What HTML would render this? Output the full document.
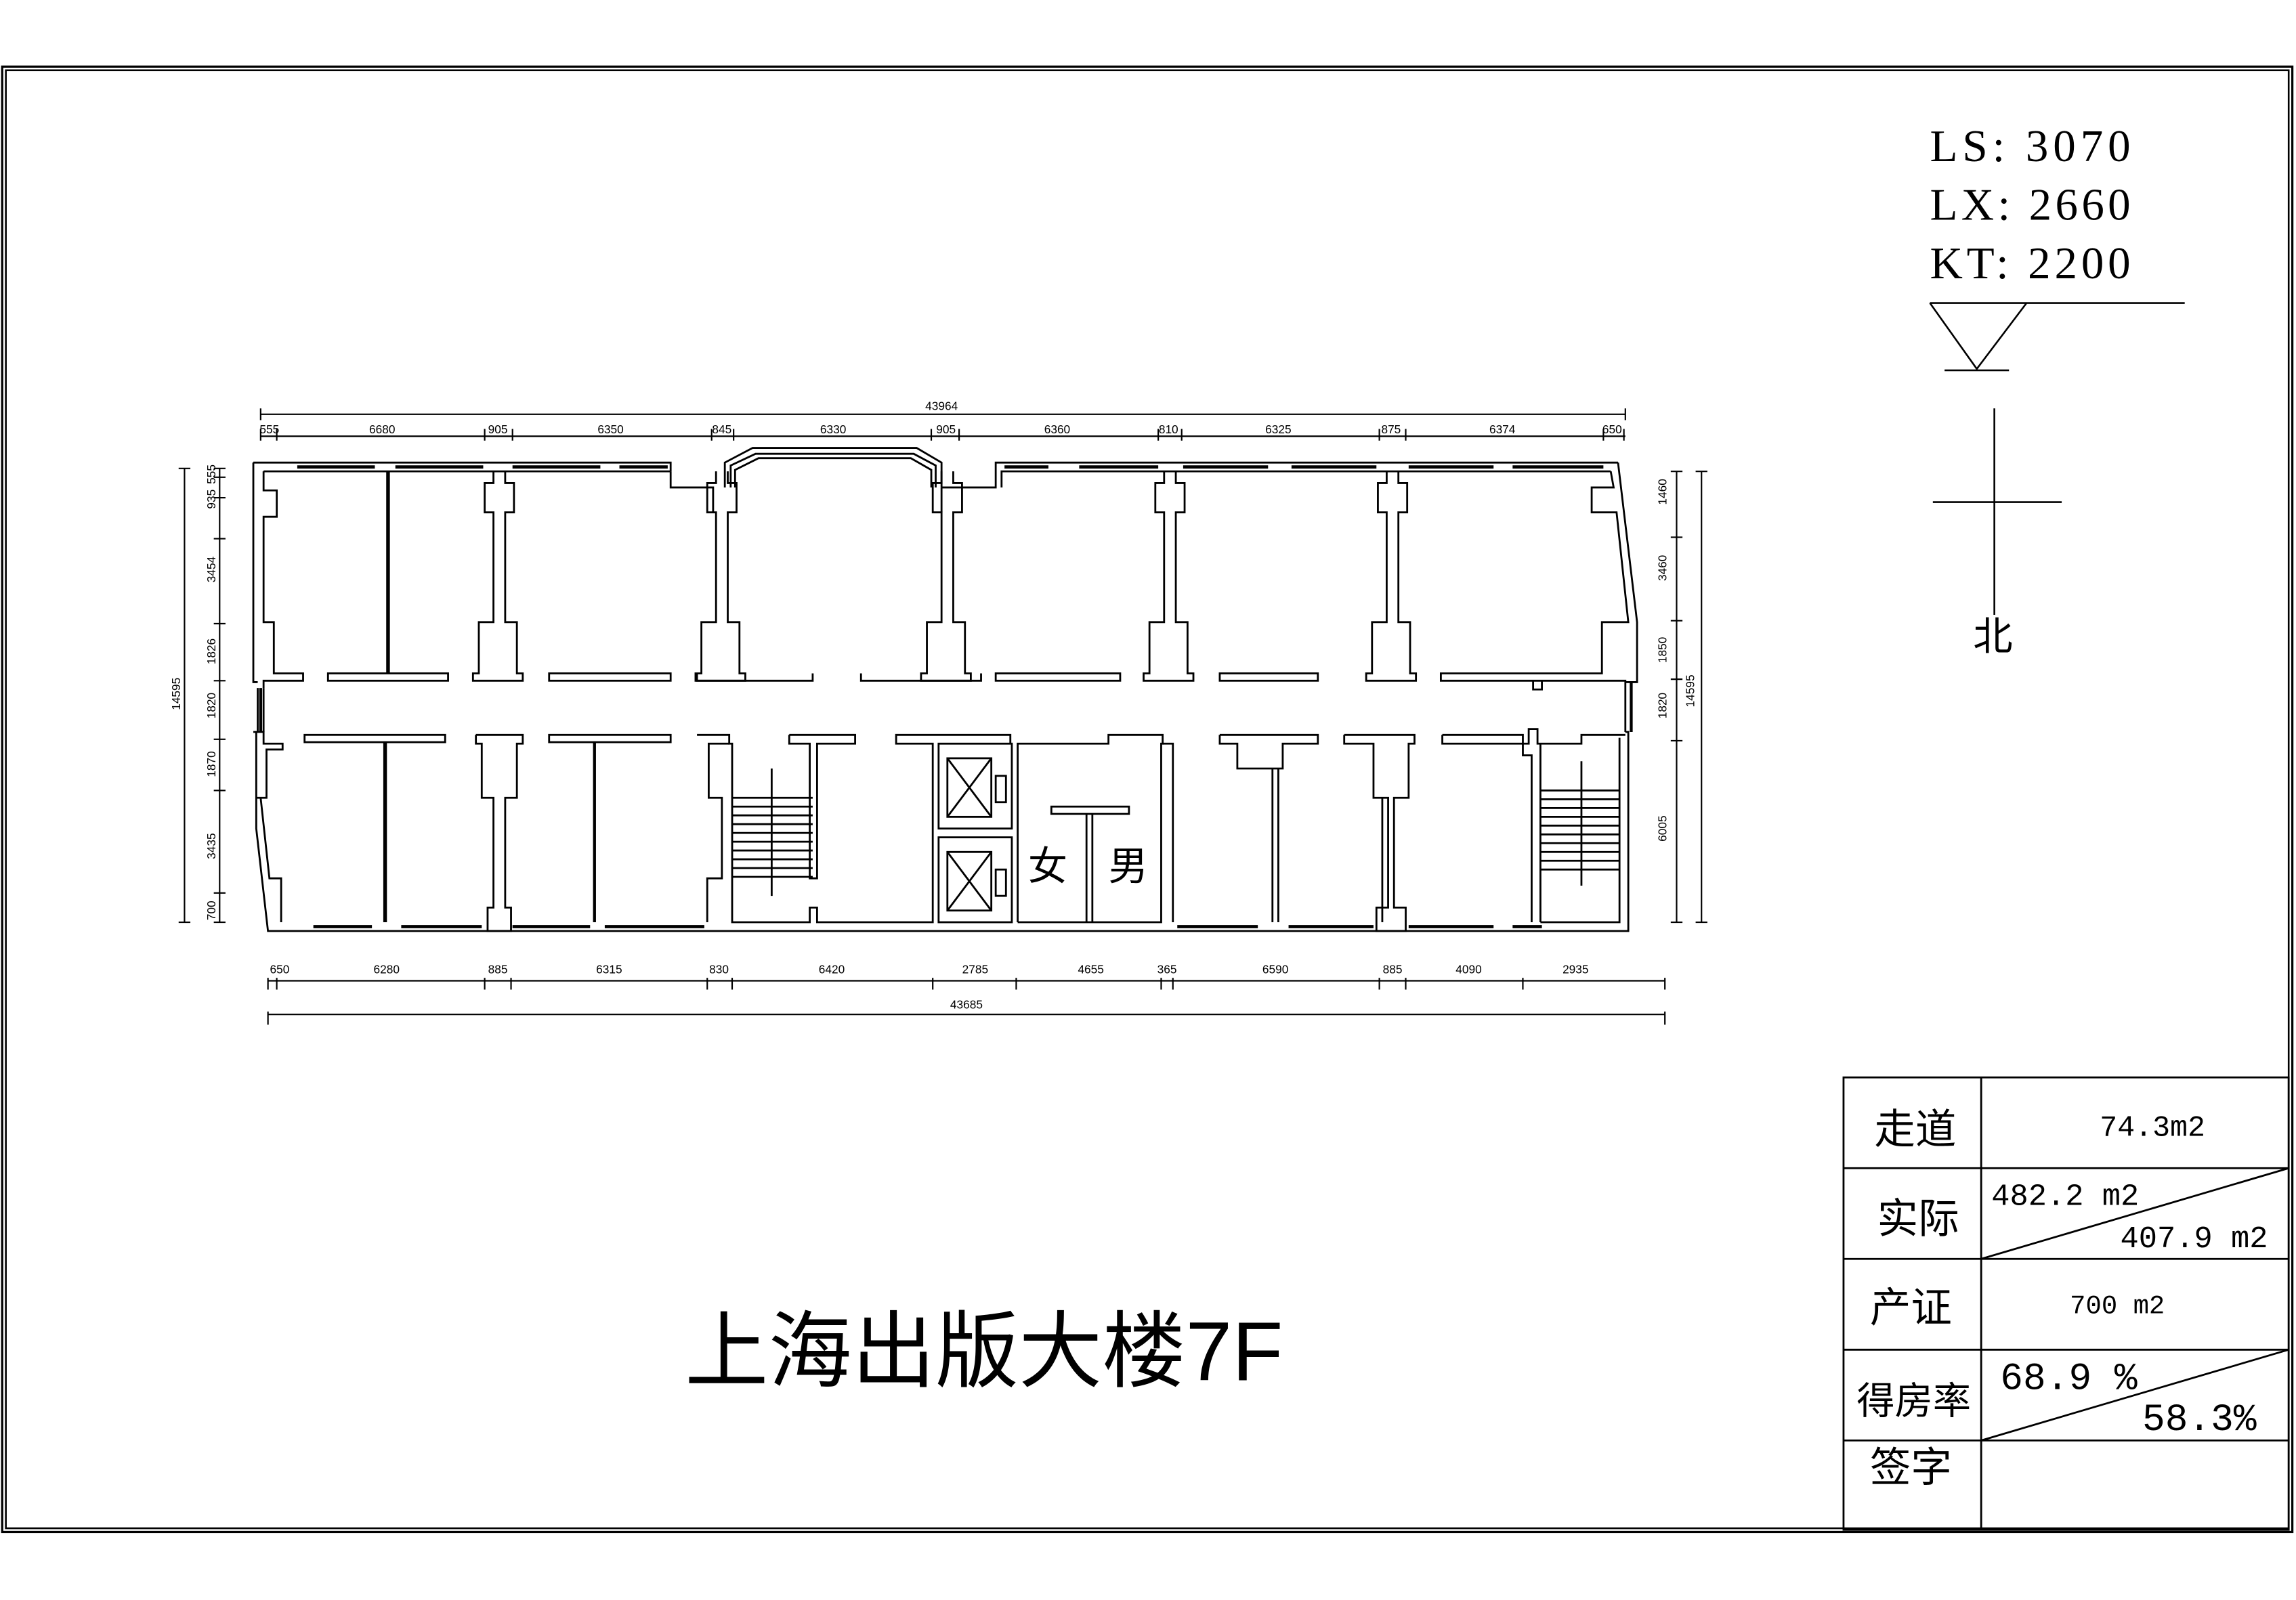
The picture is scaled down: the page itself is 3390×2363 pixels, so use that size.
<!DOCTYPE html>
<html><head><meta charset="utf-8"><style>
html,body{margin:0;padding:0;background:#fff;}
svg{display:block;}
.d{font-family:"Liberation Sans Narrow","Liberation Sans",sans-serif;font-size:8px;text-anchor:middle;}
</style></head><body>
<svg width="3390" height="2363" viewBox="0 0 1568 1093" preserveAspectRatio="none" xmlns="http://www.w3.org/2000/svg">
<rect x="0" y="0" width="1568" height="1093" fill="#fff"/>
<g fill="none" stroke="#000">
<!-- frame -->
<rect x="1.5" y="45.5" width="1564" height="1001" stroke-width="1.5"/>
<rect x="4" y="48" width="1559" height="996" stroke-width="1.2"/>

<!-- north symbols -->
<line x1="1318" y1="207" x2="1492" y2="207" stroke-width="1.2"/>
<polyline points="1318,207 1350,252 1384,207" stroke-width="1.2"/>
<line x1="1328" y1="253" x2="1372" y2="253" stroke-width="1.2"/>
<line x1="1362" y1="279" x2="1362" y2="420" stroke-width="1.2"/>
<line x1="1320" y1="343" x2="1408" y2="343" stroke-width="1.2"/>

<!-- table -->
<g stroke-width="1.3">
<rect x="1259" y="736" width="304" height="309"/>
<line x1="1353" y1="736" x2="1353" y2="1045"/>
<line x1="1259" y1="798" x2="1563" y2="798"/>
<line x1="1259" y1="860" x2="1563" y2="860"/>
<line x1="1259" y1="922" x2="1563" y2="922"/>
<line x1="1259" y1="984" x2="1563" y2="984"/>
<line x1="1353" y1="860" x2="1563" y2="798"/>
<line x1="1353" y1="984" x2="1563" y2="922"/>
</g>

<!-- dimension lines -->
<g stroke-width="1">
<line x1="178" y1="283" x2="1110" y2="283"/>
<line x1="178" y1="279" x2="178" y2="287"/><line x1="1110" y1="279" x2="1110" y2="287"/>
<line x1="178" y1="298" x2="1110" y2="298"/>
<path d="M178 293v8M189 293v8M331 293v8M350 293v8M486 293v8M501 293v8M636 293v8M655 293v8M791 293v8M807 293v8M942 293v8M960 293v8M1095 293v8M1109 293v8"/>
<line x1="183" y1="670" x2="1137" y2="670"/>
<path d="M183 668v8M189 668v8M331 668v8M349 668v8M483 668v8M500 668v8M637 668v8M694 668v8M793 668v8M801 668v8M942 668v8M960 668v8M1040 668v8M1137 668v8"/>
<line x1="183" y1="693" x2="1137" y2="693"/>
<line x1="183" y1="691" x2="183" y2="700"/><line x1="1137" y1="691" x2="1137" y2="700"/>
<line x1="150" y1="320" x2="150" y2="630"/>
<path d="M146 320h8M146 326h8M146 340h8M146 368h8M146 426h8M146 465h8M146 505h8M146 540h8M146 610h8M146 630h8"/>
<line x1="126" y1="320" x2="126" y2="630"/>
<path d="M122 320h8M122 630h8"/>
<line x1="1145" y1="322" x2="1145" y2="630"/>
<path d="M1141 322h8M1141 367h8M1141 424h8M1141 464h8M1141 506h8M1141 630h8"/>
<line x1="1162" y1="322" x2="1162" y2="630"/>
<path d="M1158 322h8M1158 630h8"/>
</g>

<!-- PLAN -->
<g stroke-width="1.3">
<polyline points="458,322 458,333 487,333 487,350"/>
<polyline points="173,316 458,316 458,322"/>
<polyline points="173,316 173,466 176,466"/>
<polyline points="180,322 458,322"/>
<polyline points="180,322 180,335 189,335 189,353 180,353 180,425 187,425 187,460 207,460 207,465 187,465 180,465 180,470"/>
<polyline points="495,333 495,316 514,306 626,306 643,316 643,333"/>
<polyline points="499,333 499,318 516,310 624,310 639,318 639,333"/>
<polyline points="502,333 502,321 518,313 622,313 636,321 636,333"/>
<polyline points="643,333 680,333 680,316 1105,316"/>
<polyline points="684,333 684,322 1100,322"/>
<polyline points="643,333 643,350"/>
<polyline points="1105,316 1118,425 1118,466 1110,466"/>
<polyline points="1100,322 1102,333 1087,333 1087,350 1104,350 1112,425 1094,425 1094,460 984,460 984,465 1110,465 1110,500"/>
<polyline points="1110,500 1112,500 1112,636 183,636 175,566 175,500"/>
<polyline points="1106,504 1106,630 1052,630"/>
<line x1="176" y1="470" x2="176" y2="500"/><line x1="180" y1="470" x2="180" y2="500"/>
<line x1="178" y1="470" x2="178" y2="500" stroke-width="2"/>
<polyline points="173,500 180,500 180,508 193,508 193,512 182,512 182,545 175,545"/>
<polyline points="178,545 184,600 192,600 192,630"/>
<line x1="1114" y1="466" x2="1114" y2="500" stroke-width="2"/>

<g stroke-width="2.2">
<path d="M203 319h53M270 319h60M350 319h60M423 319h33M686 319h30M737 319h54M808 319h58M882 319h58M962 319h58M1033 319h62"/>
<path d="M214 633h40M274 633h55M350 633h53M413 633h68M804 633h55M880 633h58M962 633h58M1033 633h20"/>
</g>

<g id="up">
<polyline points="337,322 337,330 331,330 331,350 337,350 337,425 327,425 327,460 323,460 323,465 357,465 357,460 353,460 353,425 345,425 345,350 351,350 351,330 345,330 345,322"/>
</g>
<use href="#up" transform="translate(152,0)"/>
<use href="#up" transform="translate(306,0)"/>
<use href="#up" transform="translate(458,0)"/>
<use href="#up" transform="translate(610,0)"/>
<rect x="224" y="460" width="82" height="5"/>
<rect x="375" y="460" width="83" height="5"/>
<polyline points="476,460 476,465 555,465 555,460"/>
<polyline points="588,460 588,465 670,465 670,460"/>
<rect x="680" y="460" width="85" height="5"/>
<rect x="833" y="460" width="67" height="5"/>
<line x1="265" y1="322" x2="265" y2="460" stroke-width="2.5"/>
<path d="M1047 465v6h6v-6"/>

<polyline points="325,502 357,502 357,508 353,508 353,545 345,545 345,620 349,620 349,636 333,636 333,620 337,620 337,545 329,545 329,508 325,508 325,502"/>
<rect x="208" y="502" width="96" height="5"/>
<rect x="375" y="502" width="83" height="5"/>
<line x1="263" y1="507" x2="263" y2="630" stroke-width="2.5"/>
<line x1="406" y1="507" x2="406" y2="630" stroke-width="2"/>
<polyline points="476,502 498,502 498,508 500,508 500,630 553,630 553,620 558,620 558,630 637,630 637,508 612,508 612,502 690,502 690,508"/>
<polyline points="498,508 484,508 484,545 493,545 493,600 483,600 483,630"/>
<polyline points="539,502 584,502 584,508 558,508 558,600 553,600 553,508 539,508 539,502"/>
<path d="M500 545h55M500 551h55M500 557h55M500 563h55M500 569h55M500 575h55M500 581h55M500 587h55M500 593h55M500 599h55"/>
<line x1="527" y1="525" x2="527" y2="612"/>
<rect x="641" y="508" width="50" height="58"/>
<rect x="641" y="572" width="50" height="58"/>
<rect x="647" y="518" width="30" height="40"/>
<path d="M647 518L677 558M677 518L647 558"/>
<rect x="647" y="582" width="30" height="40"/>
<path d="M647 582L677 622M677 582L647 622"/>
<rect x="680" y="530" width="7" height="18"/>
<rect x="680" y="594" width="7" height="18"/>
<polyline points="695,630 695,508 757,508 757,502 794,502 794,508 793,508 793,630 695,630"/>
<rect x="718" y="551" width="53" height="5"/>
<line x1="742" y1="556" x2="742" y2="630"/>
<line x1="746" y1="556" x2="746" y2="630"/>
<polyline points="801,630 801,508 794,508"/>
<polyline points="833,502 900,502 900,508 876,508 876,525 845,525 845,508 833,508 833,502"/>
<line x1="869" y1="525" x2="869" y2="630"/>
<line x1="873" y1="525" x2="873" y2="630"/>
<polyline points="918,502 966,502 966,508 962,508 962,545 952,545 952,620 960,620 960,636 940,636 940,620 948,620 948,545 938,545 938,508 918,508 918,502"/>
<polyline points="985,502 1040,502 1040,508 1044,508 1044,498 1050,498 1050,508 1080,508 1080,502 1110,502"/>
<polyline points="1040,508 1040,516 1046,516 1046,630"/>
<polyline points="1052,508 1052,630"/>
<polyline points="1040,508 985,508 985,502"/>
<path d="M1052 540h54M1052 546h54M1052 552h54M1052 558h54M1052 564h54M1052 570h54M1052 576h54M1052 582h54M1052 588h54M1052 594h54"/>
<line x1="1080" y1="520" x2="1080" y2="605"/>
<line x1="944" y1="545" x2="944" y2="630"/>
</g>
</g>

<g fill="#000">
<text class="d" x="643" y="280">43964</text>
<text class="d" x="184" y="296">555</text><text class="d" x="261" y="296">6680</text><text class="d" x="340" y="296">905</text><text class="d" x="417" y="296">6350</text><text class="d" x="493" y="296">845</text><text class="d" x="569" y="296">6330</text><text class="d" x="646" y="296">905</text><text class="d" x="722" y="296">6360</text><text class="d" x="798" y="296">810</text><text class="d" x="873" y="296">6325</text><text class="d" x="950" y="296">875</text><text class="d" x="1026" y="296">6374</text><text class="d" x="1101" y="296">650</text>
<text class="d" x="191" y="665">650</text><text class="d" x="264" y="665">6280</text><text class="d" x="340" y="665">885</text><text class="d" x="416" y="665">6315</text><text class="d" x="491" y="665">830</text><text class="d" x="568" y="665">6420</text><text class="d" x="666" y="665">2785</text><text class="d" x="745" y="665">4655</text><text class="d" x="797" y="665">365</text><text class="d" x="871" y="665">6590</text><text class="d" x="951" y="665">885</text><text class="d" x="1003" y="665">4090</text><text class="d" x="1076" y="665">2935</text>
<text class="d" x="660" y="689">43685</text>
<g class="d">
<text transform="translate(123,474) rotate(-90)">14595</text>
<text transform="translate(147,324) rotate(-90)">555</text>
<text transform="translate(147,341) rotate(-90)">935</text>
<text transform="translate(147,389) rotate(-90)">3454</text>
<text transform="translate(147,445) rotate(-90)">1826</text>
<text transform="translate(147,482) rotate(-90)">1820</text>
<text transform="translate(147,522) rotate(-90)">1870</text>
<text transform="translate(147,578) rotate(-90)">3435</text>
<text transform="translate(147,622) rotate(-90)">700</text>
<text transform="translate(1138,336) rotate(-90)">1460</text>
<text transform="translate(1138,388) rotate(-90)">3460</text>
<text transform="translate(1138,444) rotate(-90)">1850</text>
<text transform="translate(1138,482) rotate(-90)">1820</text>
<text transform="translate(1138,566) rotate(-90)">6005</text>
<text transform="translate(1157,472) rotate(-90)">14595</text>
</g>
<text x="702" y="601" font-family="'Liberation Sans','Noto Sans CJK SC',sans-serif" font-size="27">女</text>
<text x="757" y="601" font-family="'Liberation Sans','Noto Sans CJK SC',sans-serif" font-size="27">男</text>

<g font-family="'Liberation Serif','Noto Serif CJK SC',serif" font-size="31">
<text x="1318" y="110" textLength="137" lengthAdjust="spacing">LS: 3070</text>
<text x="1318" y="150" textLength="137" lengthAdjust="spacing">LX: 2660</text>
<text x="1318" y="190" textLength="137" lengthAdjust="spacing">KT: 2200</text>
</g>
<text x="1361" y="444" text-anchor="middle" font-family="'Liberation Sans','Noto Sans CJK SC',sans-serif" font-size="27">北</text>

<text x="672" y="943" text-anchor="middle" font-family="'Liberation Sans','Noto Sans CJK SC',sans-serif" font-size="57">上海出版大楼7F</text>

<g font-family="'Liberation Sans','Noto Sans CJK SC',sans-serif" font-size="28" text-anchor="middle">
<text x="1308" y="781">走道</text>
<text x="1310" y="842">实际</text>
<text x="1305" y="903">产证</text>
<text x="1307" y="966" font-size="26">得房率</text>
<text x="1305" y="1012">签字</text>
</g>
<g font-family="'Liberation Mono','Liberation Sans',monospace">
<text x="1470" y="776" font-size="20" text-anchor="middle">74.3m2</text>
<text x="1360" y="823" font-size="21">482.2 m2</text>
<text x="1448" y="852" font-size="21">407.9 m2</text>
<text x="1446" y="897" font-size="18" text-anchor="middle">700 m2</text>
<text x="1366" y="949" font-size="26">68.9 %</text>
<text x="1463" y="977" font-size="26">58.3%</text>
</g>
</g>
</svg>
</body></html>
